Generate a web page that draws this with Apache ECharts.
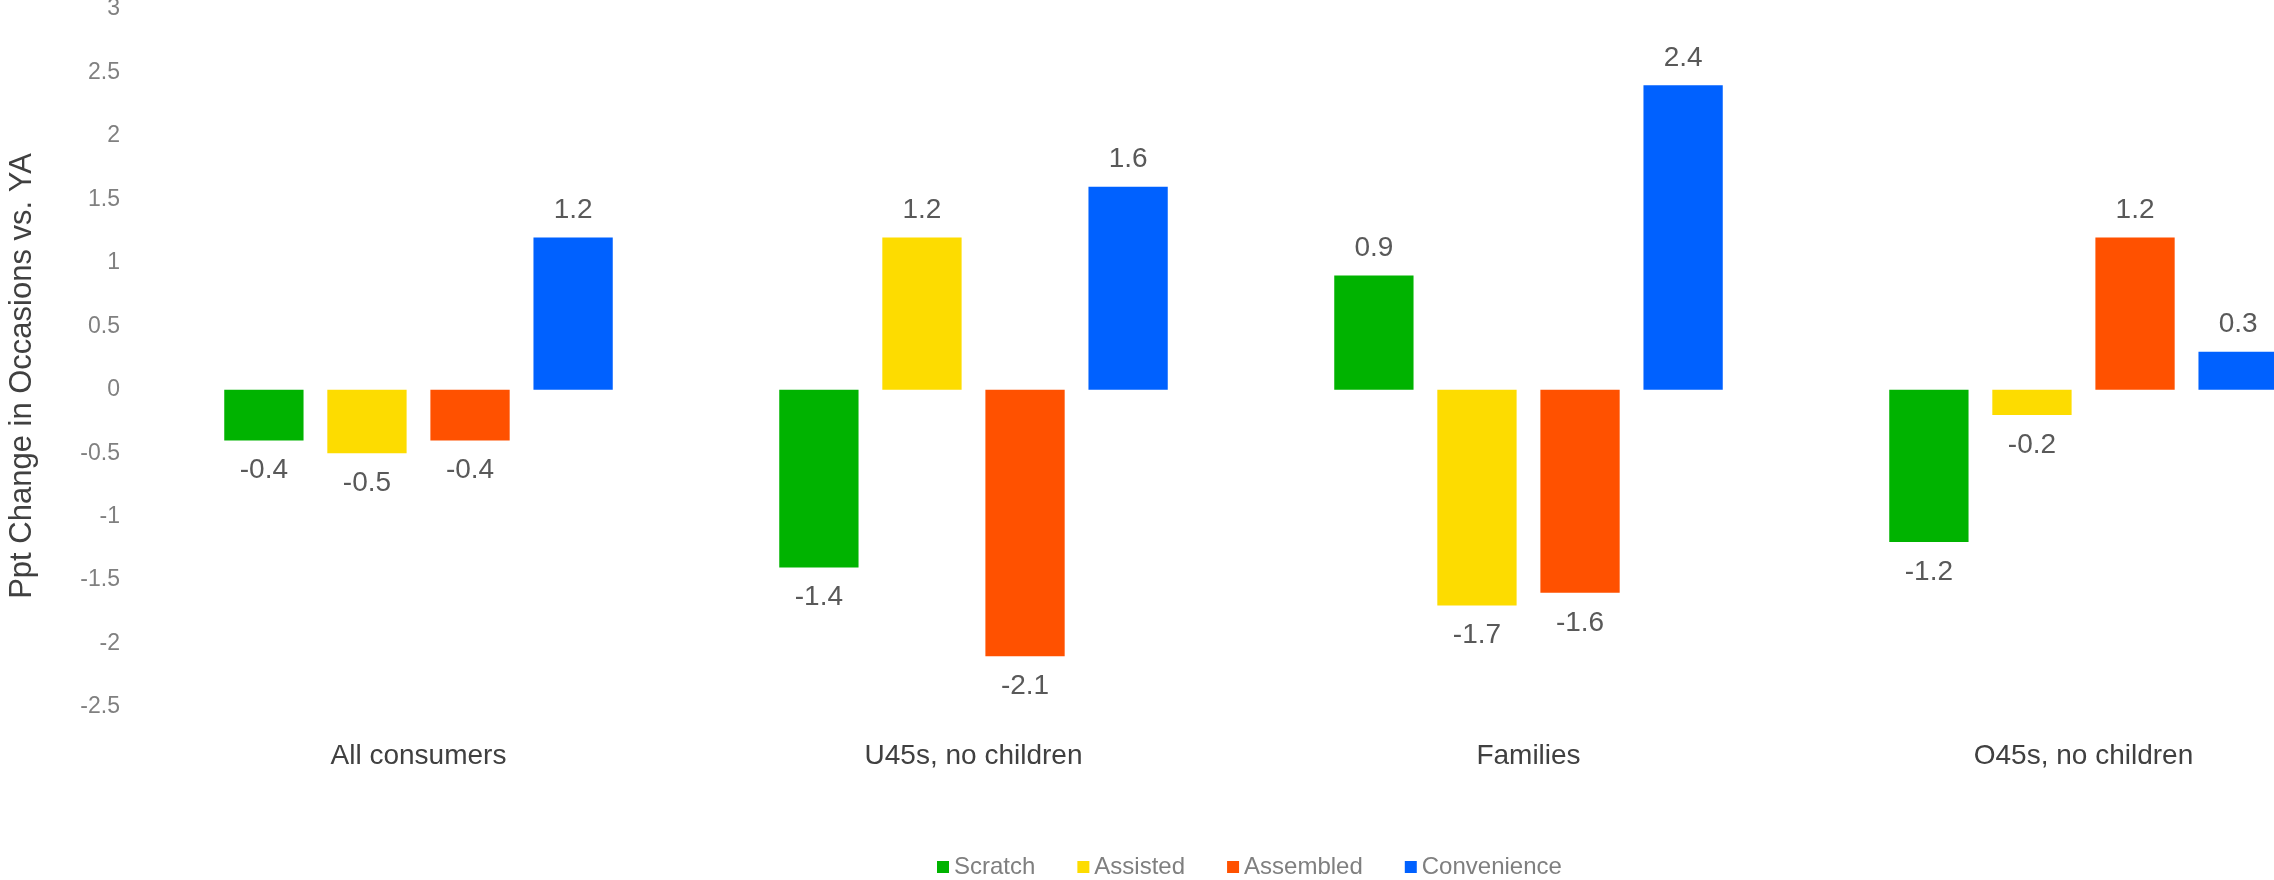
<!DOCTYPE html>
<html>
<head>
<meta charset="utf-8">
<script src="https://cdn.jsdelivr.net/npm/echarts@6/dist/echarts.min.js"></script>
<style>
    html, body { margin: 0; padding: 0; background: #fff; }
    #chart { width: 2274px; height: 880px; }
</style>
</head>
<body>
<div id="chart"></div>
<script>
var categories = ['All consumers', 'U45s, no children', 'Families', 'O45s, no children']
var seriesNames = ['Scratch', 'Assisted', 'Assembled', 'Convenience']
var scratchData = [-0.4, -1.4, 0.9, -1.2]
var assistedData = [-0.5, 1.2, -1.7, -0.2]
var assembledData = [-0.4, -2.1, -1.6, 1.2]
var convenienceData = [1.2, 1.6, 2.4, 0.3]
var yMin = -2.5
var yMax = 3
var yStep = 0.5

var colors = ['#00b300', '#fddc00', '#ff5100', '#0061ff']
var fontFamily = '"Liberation Sans", Arial, sans-serif'

// 正负值分别把标签放在柱子上方/下方
function withLabels(arr) {
    return arr.map(function (v) {
        return {
            value: v,
            label: {
                position: v < 0 ? 'bottom' : 'top',
                distance: v < 0 ? 16 : 13
            }
        }
    })
}

var allData = [scratchData, assistedData, assembledData, convenienceData]

var chart = echarts.init(document.getElementById('chart'))
chart.setOption({
    animation: false,
    color: colors,
    textStyle: { fontFamily: fontFamily },
    grid: {
        left: 141,
        right: -87,
        top: 9,
        bottom: 173,
        containLabel: false,
        outerBoundsMode: 'none'
    },
    legend: {
        left: 932,
        top: 850,
        itemWidth: 12,
        itemHeight: 12,
        itemGap: 42,
        icon: 'rect',
        textStyle: {
            fontSize: 24,
            color: '#7f7f7f',
            fontFamily: fontFamily
        },
        data: seriesNames
    },
    xAxis: {
        type: 'category',
        data: categories,
        axisLine: { show: false },
        axisTick: { show: false },
        splitLine: { show: false },
        axisLabel: {
            interval: 0,
            margin: 35,
            fontSize: 28,
            color: '#404040',
            fontFamily: fontFamily
        }
    },
    yAxis: {
        type: 'value',
        min: yMin,
        max: yMax,
        interval: yStep,
        name: 'Ppt Change in Occasions vs. YA',
        nameLocation: 'middle',
        nameGap: 103,
        nameTextStyle: {
            fontSize: 31,
            color: '#404040',
            fontFamily: fontFamily,
            padding: [0, 36, 0, 0]
        },
        axisLine: { show: false },
        axisTick: { show: false },
        splitLine: { show: false },
        axisLabel: {
            margin: 21,
            fontSize: 23,
            color: '#808080',
            fontFamily: fontFamily
        }
    },
    series: seriesNames.map(function (name, i) {
        return {
            name: name,
            type: 'bar',
            barGap: '30%',
            barCategoryGap: '30%',
            data: withLabels(allData[i]),
            label: {
                show: true,
                fontSize: 28,
                color: '#595959',
                fontFamily: fontFamily
            }
        }
    })
})
</script>
</body>
</html>
